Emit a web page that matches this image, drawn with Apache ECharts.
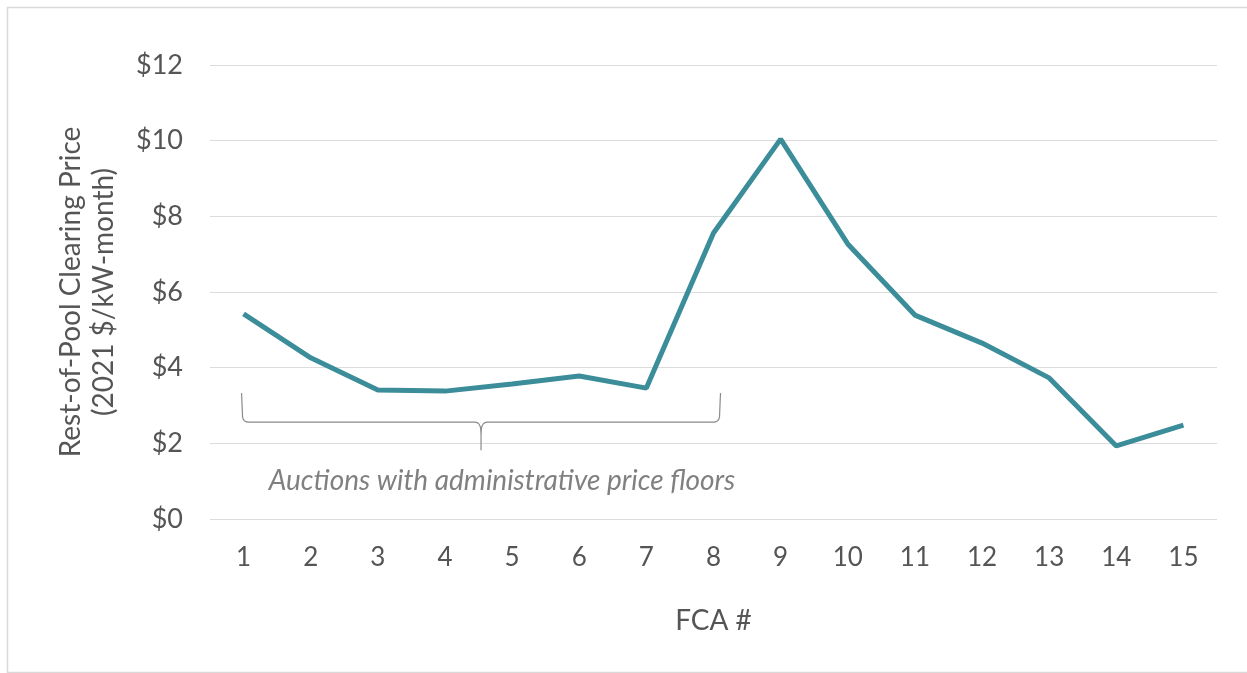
<!DOCTYPE html>
<html>
<head>
<meta charset="utf-8">
<script src="https://cdn.jsdelivr.net/npm/echarts@6/dist/echarts.min.js"></script>
<style>html,body{margin:0;padding:0;background:#fff;}#c{width:1247px;height:673px;}</style>
</head>
<body>
<div id="c"></div>
<script>
const categories = ['1','2','3','4','5','6','7','8','9','10','11','12','13','14','15'];
const prices = [5.42, 4.26, 3.41, 3.38, 3.57, 3.78, 3.46, 7.56, 10.04, 7.27, 5.39, 4.65, 3.73, 1.93, 2.48];
const yTicks = [0, 2, 4, 6, 8, 10, 12];
const annotationText = 'Auctions with administrative price floors';
const bracketRange = [0, 7]; // category indices covered by the bracket

const FONT = 'Lato, "Open Sans", sans-serif';
const chart = echarts.init(document.getElementById('c'), null, {renderer: 'canvas'});

chart.setOption({
  backgroundColor: '#fff',
  animation: false,
  graphic: [{
    type: 'rect', left: 5, top: 5,
    shape: {width: 1241, height: 665},
    style: {fill: 'none', stroke: '#d9d9d9', lineWidth: 1.5},
    silent: true
  }],
  grid: {left: 210, right: 30, top: 65, bottom: 154},
  xAxis: {
    type: 'category',
    data: categories,
    boundaryGap: true,
    name: 'FCA #',
    nameLocation: 'middle',
    nameGap: 88,
    nameTextStyle: {color: '#555', fontSize: 28, fontFamily: FONT},
    axisLine: {show: false},
    axisTick: {show: false},
    axisLabel: {color: '#555', fontSize: 26, fontFamily: FONT, margin: 26}
  },
  yAxis: {
    type: 'value',
    min: 0, max: 12, interval: 2,
    name: 'Rest-of-Pool Clearing Price\n(2021 $/kW-month)',
    nameLocation: 'middle',
    nameGap: 90,
    nameTextStyle: {color: '#555', fontSize: 28, fontFamily: FONT, lineHeight: 33},
    axisLine: {show: false},
    axisTick: {show: false},
    axisLabel: {color: '#555', fontSize: 27, fontFamily: FONT, margin: 27,
      formatter: v => yTicks.includes(v) ? '$' + v : ''},
    splitLine: {lineStyle: {color: '#dcdcdc', width: 1.2}}
  },
  series: [{
    type: 'line',
    data: prices,
    symbol: 'none',
    lineStyle: {color: '#3b8d99', width: 5},
    z: 3
  }, {
    type: 'custom',
    clip: false,
    silent: true,
    data: [[bracketRange[0], bracketRange[1]]],
    renderItem: function (params, api) {
      const pL = api.coord([bracketRange[0], 3.33]);
      const pR = api.coord([bracketRange[1], 3.33]);
      const xL = pL[0] - 2, xR = pR[0] + 7;
      const yTop = pL[1];
      const yMid = api.coord([0, 2.56])[1];
      const yTip = api.coord([0, 1.82])[1];
      const yText = api.coord([0, 1.0])[1];
      const xC = (xL + xR) / 2;
      const st = {stroke: '#8a8a8a', lineWidth: 1.2, fill: 'none'};
      return {
        type: 'group',
        children: [
          {type: 'path', shape: {pathData:
            'M' + xL + ' ' + yTop + ' L' + (xL + 1) + ' ' + (yMid - 5) +
            ' Q' + (xL + 2) + ' ' + yMid + ' ' + (xL + 7) + ' ' + yMid +
            ' L' + (xC - 6) + ' ' + yMid +
            ' Q' + (xC - 1) + ' ' + yMid + ' ' + xC + ' ' + (yMid + 8) +
            ' Q' + (xC + 1) + ' ' + yMid + ' ' + (xC + 6) + ' ' + yMid +
            ' L' + (xR - 7) + ' ' + yMid +
            ' Q' + (xR - 2) + ' ' + yMid + ' ' + (xR - 1) + ' ' + (yMid - 5) +
            ' L' + xR + ' ' + yTop
          }, style: st},
          {type: 'line', shape: {x1: xC, y1: yMid + 6, x2: xC, y2: yTip}, style: st},
          {type: 'text', x: xC + 21, y: yText, style: {
            text: annotationText, fill: '#808080', fontSize: 28, fontStyle: 'italic',
            fontFamily: FONT, align: 'center', verticalAlign: 'middle'
          }}
        ]
      };
    }
  }]
});
</script>
</body>
</html>
